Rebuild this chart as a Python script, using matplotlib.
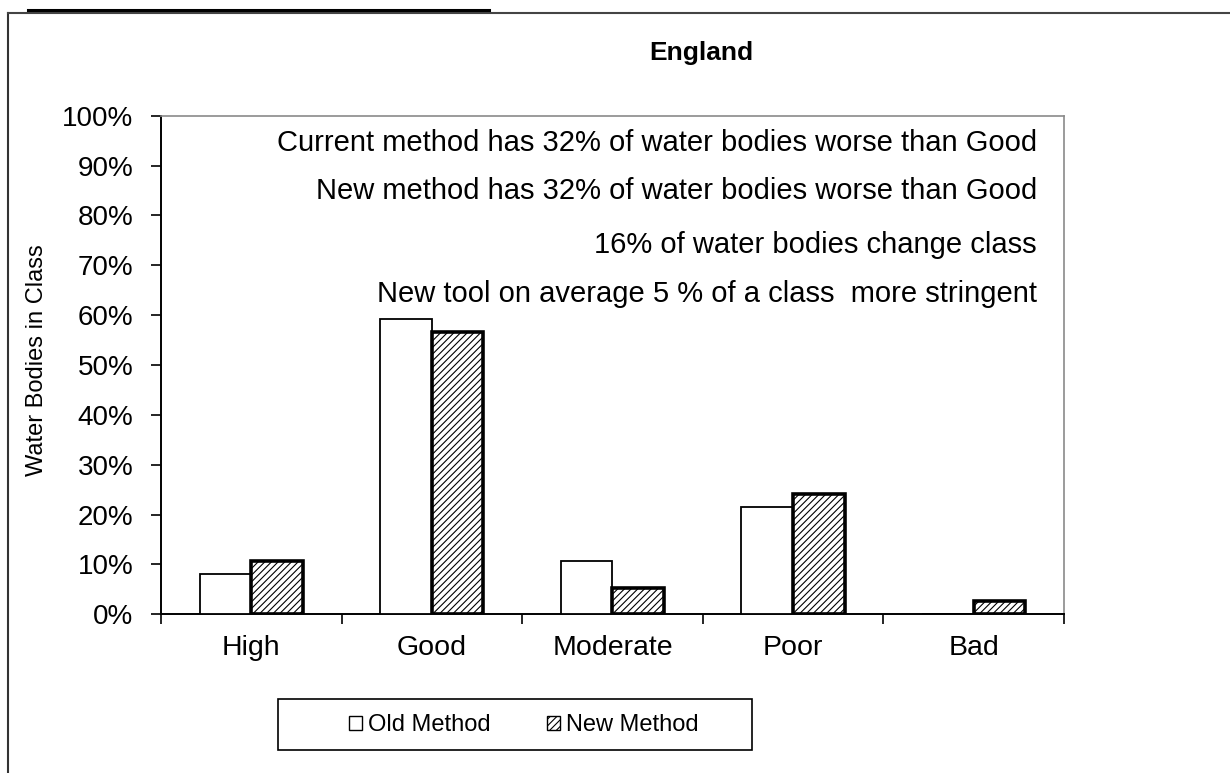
import numpy as np
import matplotlib
matplotlib.use("Agg")
import matplotlib.pyplot as plt
from matplotlib.lines import Line2D
from matplotlib.patches import Rectangle
from matplotlib.ticker import FixedLocator, PercentFormatter

plt.rcParams['font.family'] = ['Liberation Sans', 'DejaVu Sans']
plt.rcParams['hatch.linewidth'] = 0.8

classes = ["High", "Good", "Moderate", "Poor", "Bad"]
old_method = [8.0, 59.2, 10.7, 21.5, 0.0]
new_method = [10.7, 56.6, 5.3, 24.1, 2.7]
notes = [
    "Current method has 32% of water bodies worse than Good",
    "New method has 32% of water bodies worse than Good",
    "16% of water bodies change class",
    "New tool on average 5 % of a class  more stringent",
]

fig = plt.figure(figsize=(12.3, 7.73), dpi=100)
ax = fig.add_axes([0.1309, 0.2053, 0.7341, 0.6450])

x = np.arange(len(classes))
w = 1 / 3.5  # excel style, gap width 150%
ax.bar(x - w / 2, old_method, w, color="white", edgecolor="black",
       linewidth=1.3, label="Old Method", zorder=3)
ax.bar(x + w / 2, new_method, w, color="white", edgecolor="black",
       linewidth=2.6, hatch="/////", label="New Method", zorder=3)

ax.set_xlim(-0.5, len(classes) - 0.5)
ax.set_ylim(0, 100)
ax.yaxis.set_major_locator(FixedLocator(np.arange(0, 101, 10)))
ax.yaxis.set_major_formatter(PercentFormatter(decimals=0))

# boundaries get the tick marks, the class names sit between them
ax.set_xticks(np.arange(-0.5, len(classes), 1.0))
ax.set_xticklabels([])
ax.set_xticks(x, minor=True)
ax.set_xticklabels(classes, minor=True, fontsize=20.5)
ax.tick_params(axis="x", which="major", direction="out", length=7, width=1.2)
ax.tick_params(axis="x", which="minor", length=0, pad=15)
ax.tick_params(axis="y", direction="out", length=7, width=1.2, labelsize=20, pad=13)

for s in ("left", "bottom"):
    ax.spines[s].set_linewidth(1.4)
    ax.spines[s].set_color("black")
for s in ("top", "right"):
    ax.spines[s].set_linewidth(1.2)
    ax.spines[s].set_color("#8a8a8a")

ypos = [0.945, 0.849, 0.741, 0.642]
for t, yy in zip(notes, ypos):
    ax.text(0.970, yy, t, transform=ax.transAxes, ha="right", va="center",
            fontsize=21)

fig.text(0.570, 0.931, "England", ha="center", va="center",
         fontsize=19, fontweight="bold")
fig.text(0.030, 0.534, "Water Bodies in Class", rotation=90,
         ha="center", va="center", fontsize=17)

leg = fig.legend(loc="center", bbox_to_anchor=(0.426, 0.062), ncol=2,
                 fontsize=17, frameon=False,
                 handlelength=0.55, handleheight=0.55, handletextpad=0.25,
                 columnspacing=2.4)
for h in leg.legend_handles:
    h.set_linewidth(1.0)

# legend box, outer chart frame and the rule above it
fig.add_artist(Rectangle((278 / 1230, 1 - 750 / 773), 474 / 1230, 51 / 773,
                         transform=fig.transFigure, fill=False,
                         edgecolor="black", lw=1.2))
fig.add_artist(Line2D([8 / 1230, 8 / 1230], [0, 1 - 13 / 773],
                      transform=fig.transFigure, color="#333333", lw=1.5))
fig.add_artist(Line2D([8 / 1230, 1], [1 - 13 / 773, 1 - 13 / 773],
                      transform=fig.transFigure, color="#444444", lw=1.5))
fig.add_artist(Line2D([28 / 1230, 489 / 1230], [1 - 10 / 773, 1 - 10 / 773],
                      transform=fig.transFigure, color="black", lw=2.2))

fig.savefig("out.png", dpi=100)
